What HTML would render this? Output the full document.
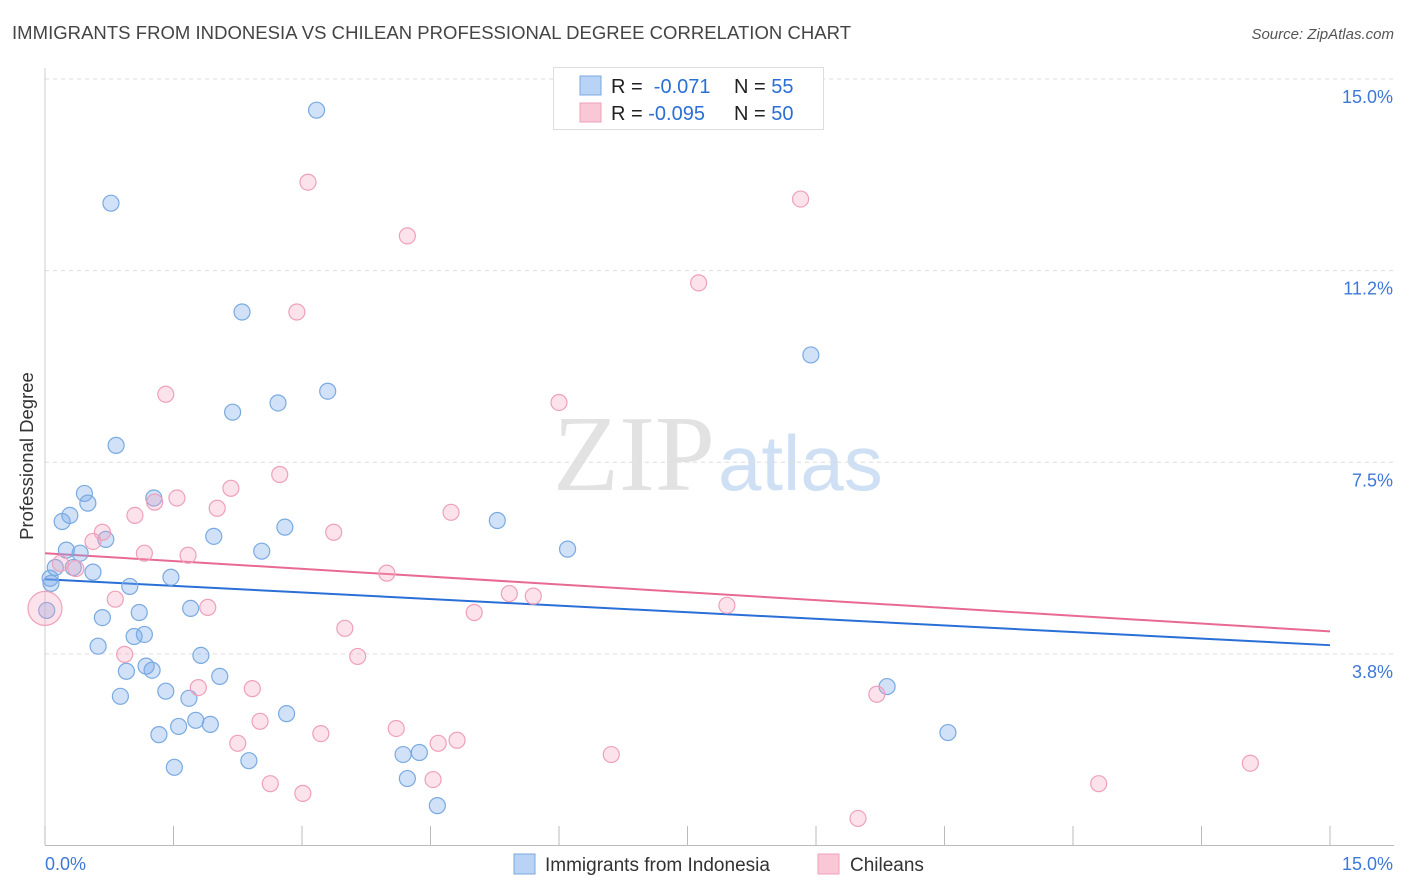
<!DOCTYPE html>
<html><head><meta charset="utf-8">
<style>
body{margin:0;background:#fff;font-family:"Liberation Sans",sans-serif;}
svg{display:block}
</style></head>
<body>
<svg id="chart" width="1406" height="892" viewBox="0 0 1406 892">
<text x="12" y="39" font-size="18.5" fill="#444" textLength="839">IMMIGRANTS FROM INDONESIA VS CHILEAN PROFESSIONAL DEGREE CORRELATION CHART</text>
<text x="1394" y="39" font-size="15" fill="#555" font-style="italic" text-anchor="end">Source: ZipAtlas.com</text>
<text x="33" y="456" font-size="18.5" fill="#333" text-anchor="middle" transform="rotate(-90 33 456)">Professional Degree</text>
<text x="715" y="490" font-size="108" fill="#e2e2e2" font-family="Liberation Serif,serif" text-anchor="end">ZIP</text>
<text x="718" y="490" font-size="78" fill="#cfe0f4" text-anchor="start">atlas</text>
<g id="grid"></g><g id="axes"></g><g id="trend"></g><g id="points"></g>
<g>
<rect x="553.5" y="67.5" width="270" height="62" fill="#fff" stroke="#ddd"/>
<rect x="580" y="76" width="21" height="19" fill="#b8d3f5" stroke="#7aaae0"/>
<rect x="580" y="103" width="21" height="19" fill="#f9c7d6" stroke="#eea0bb"/>
<text x="611" y="93" font-size="20" fill="#222">R = <tspan fill="#2a6fd6">&#160;-0.071</tspan><tspan x="734">N = </tspan><tspan fill="#2a6fd6">55</tspan></text>
<text x="611" y="120" font-size="20" fill="#222">R = <tspan fill="#2a6fd6">-0.095</tspan><tspan x="734">N = </tspan><tspan fill="#2a6fd6">50</tspan></text>
</g>
<g>
<rect x="514" y="854" width="21" height="20" fill="#b8d3f5" stroke="#7aaae0"/>
<text x="545" y="871" font-size="19" fill="#333">Immigrants from Indonesia</text>
<rect x="818" y="854" width="21" height="20" fill="#f9c7d6" stroke="#eea0bb"/>
<text x="850" y="871" font-size="19" fill="#333">Chileans</text>
</g>
</svg>
<script>
const yTicks=[3.75,7.5,11.25,15];
const yTickLabels=["3.8%","7.5%","11.2%","15.0%"];
const xTicks=[0,1.5,3,4.5,6,7.5,9,10.5,12,13.5,15];
const blueX=[3.17,0.77,2.30,8.94,3.30,2.72,2.19,0.83,0.46,1.27,0.50,0.29,0.20,5.28,2.80,1.97,0.71,0.25,0.41,2.53,6.10,0.12,0.33,0.56,0.06,1.47,0.99,0.07,0.02,1.70,0.67,1.10,1.16,1.04,0.62,1.82,1.18,1.25,0.95,2.04,9.83,1.41,0.88,1.68,2.82,1.76,1.56,1.93,1.33,10.54,2.38,4.18,4.37,1.51,4.23,4.58];
const blueY=[14.39,12.57,10.44,9.60,8.89,8.66,8.48,7.83,6.89,6.80,6.70,6.46,6.34,6.36,6.23,6.05,5.99,5.78,5.72,5.76,5.80,5.44,5.44,5.35,5.23,5.25,5.07,5.13,4.60,4.64,4.46,4.56,4.13,4.09,3.90,3.72,3.51,3.43,3.41,3.31,3.11,3.02,2.92,2.88,2.58,2.45,2.33,2.37,2.17,2.21,1.66,1.78,1.82,1.53,1.31,0.78];
const pinkX=[3.07,8.82,4.23,7.63,2.94,1.41,6.00,2.74,2.17,1.54,1.28,2.01,1.05,4.74,0.67,3.37,0.56,1.16,1.67,0.18,0.36,3.99,5.42,5.70,0.82,1.90,5.01,7.96,3.50,0.93,3.65,1.79,2.42,9.71,2.51,4.10,3.22,4.81,4.59,2.25,6.61,14.07,4.53,2.63,12.30,3.01,9.49,0.0];
const pinkY=[12.98,12.65,11.93,11.01,10.44,8.83,8.67,7.26,6.99,6.80,6.72,6.60,6.46,6.52,6.13,6.13,5.95,5.72,5.68,5.52,5.42,5.33,4.93,4.88,4.82,4.66,4.56,4.70,4.25,3.74,3.70,3.09,3.07,2.96,2.43,2.29,2.19,2.06,2.00,2.00,1.78,1.61,1.29,1.21,1.21,1.02,0.53,4.64];
const pinkR=[8,8,8,8,8,8,8,8,8,8,8,8,8,8,8,8,8,8,8,8,8,8,8,8,8,8,8,8,8,8,8,8,8,8,8,8,8,8,8,8,8,8,8,8,8,8,8,17];
const blueTrend=[5.21,3.92];
const pinkTrend=[5.72,4.19];
const NS="http://www.w3.org/2000/svg";
const X=v=>45+v/15*1285, Y=v=>845.5-v/15*766.5;
function mk(tag,attrs,parent){const e=document.createElementNS(NS,tag);for(const k in attrs)e.setAttribute(k,attrs[k]);parent.appendChild(e);return e;}
const grid=document.getElementById('grid'),axes=document.getElementById('axes'),trend=document.getElementById('trend'),pts=document.getElementById('points');
yTicks.forEach((t,i)=>{
 const l=mk('line',{x1:45,x2:1394,y1:Y(t),y2:Y(t),stroke:'#ddd','stroke-dasharray':'4 4'},grid);
 
 
 const tx=mk('text',{x:1393,y:Y(t)+24,'font-size':18,fill:'#3d78d8','text-anchor':'end'},axes);
 tx.textContent=yTickLabels[i];
 
 
});
const ax=mk('line',{x1:45,x2:1394,y1:845.5,y2:845.5,stroke:'#bbb'},axes);


const ay=mk('line',{x1:45,x2:45,y1:68,y2:845,stroke:'#ccc'},axes);


xTicks.forEach(t=>{const l=mk('line',{x1:X(t),x2:X(t),y1:826,y2:845,stroke:'#bbb'},axes);
 
 });
const xl0=mk('text',{x:45,y:870,'font-size':18,fill:'#3d78d8'},axes);xl0.textContent='0.0%';


const xl1=mk('text',{x:1393,y:870,'font-size':18,fill:'#3d78d8','text-anchor':'end'},axes);xl1.textContent='15.0%';


blueX.forEach((v,i)=>{const c=mk('circle',{cx:X(v),cy:Y(blueY[i]),r:8,fill:'rgba(120,170,235,0.35)',stroke:'#7aaae0','stroke-width':1.2},pts);
 
 });
pinkX.forEach((v,i)=>{const c=mk('circle',{cx:X(v),cy:Y(pinkY[i]),r:pinkR[i],fill:'rgba(245,160,190,0.3)',stroke:'#eea0bb','stroke-width':1.2},pts);
 
 });
const bt=mk('line',{x1:X(0),y1:Y(blueTrend[0]),x2:X(15),y2:Y(blueTrend[1]),stroke:'#2a6fd6','stroke-width':2},trend);


const pt=mk('line',{x1:X(0),y1:Y(pinkTrend[0]),x2:X(15),y2:Y(pinkTrend[1]),stroke:'#e86a93','stroke-width':2},trend);


</script>
</body></html>
